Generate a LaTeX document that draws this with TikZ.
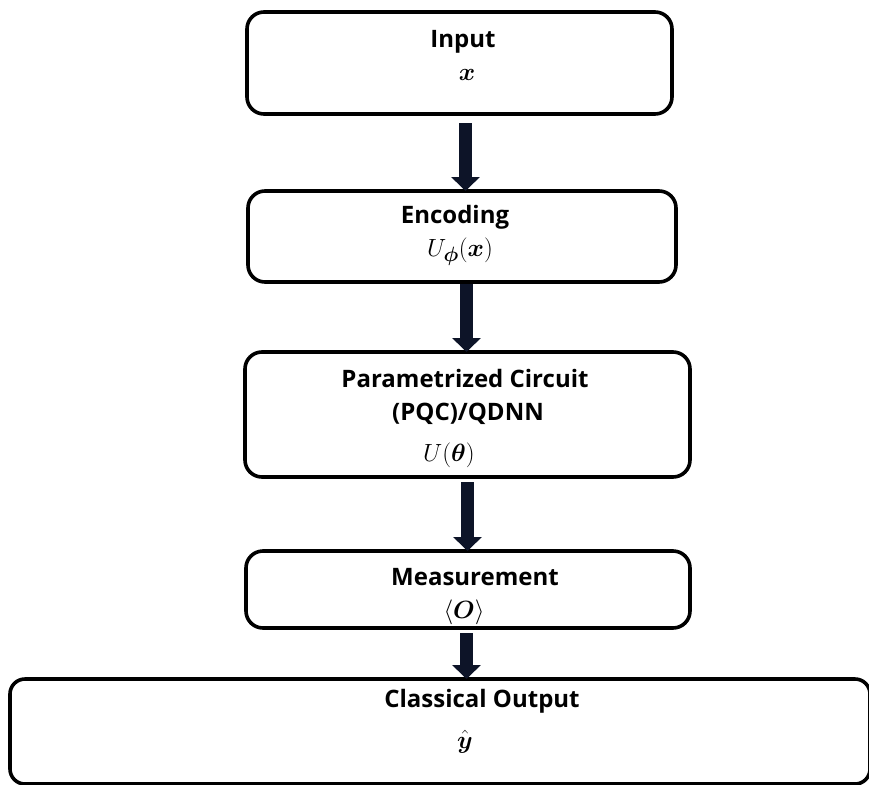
\documentclass[tikz,border=0pt]{standalone}
\usepackage{amsmath}
\usepackage{fontspec}
\setmainfont{Open Sans}
\usetikzlibrary{arrows.meta}
\definecolor{arrowc}{HTML}{0D1428}
\begin{document}
\begin{tikzpicture}[x=1pt,y=-1pt,
  blk/.style={draw=black, line width=3.6pt, rounded corners=17pt, inner sep=0pt, outer sep=0pt},
  lbl/.style={font=\fontsize{24}{28}\selectfont\bfseries, anchor=base, inner sep=0pt},
  mth/.style={font=\fontsize{29}{33}\selectfont, anchor=base, inner sep=0pt},
  flow/.style={draw=arrowc, line width=13pt, -{Triangle[length=14pt,width=28pt]}}
]
\useasboundingbox (0,0) rectangle (869,784);
% boxes
\node[blk, minimum width=425pt, minimum height=102pt] (in)   at (459.5,63)  {};
\node[blk, minimum width=428pt, minimum height=91pt]  (enc)  at (462,236.5) {};
\node[blk, minimum width=445pt, minimum height=125pt] (pqc)  at (467.5,414.5) {};
\node[blk, minimum width=444pt, minimum height=77pt]  (meas) at (468,589.5) {};
\node[blk, minimum width=860pt, minimum height=105pt, rounded corners=15pt] (out) at (440,731.5) {};
% texts
\node[lbl] (tin)  at (463,48)  {Input};
\node[mth] (tx)   at (467,81)  {$\boldsymbol{x}$};
\node[lbl] (tenc) at (455,223) {Encoding};
\node[mth] (tu)   at (460,256) {$U_{\boldsymbol{\phi}}(\boldsymbol{x})$};
\node[lbl] (tp1)  at (465,387) {Parametrized Circuit};
\node[lbl] (tp2)  at (468,420) {(PQC)/QDNN};
\node[mth] (tut)  at (449,461) {$U(\boldsymbol{\theta})$};
\node[lbl] (tm)   at (475,585) {Measurement};
\node[mth] (to)   at (464,618) {$\langle\boldsymbol{O}\rangle$};
\node[lbl] (tc)   at (482,707) {Classical Output};
\node[mth] (ty)   at (465,748) {$\hat{\boldsymbol{y}}$};
% arrows
\draw[flow] ([xshift=6pt,yshift=-9pt]in.south) -- ([xshift=3.5pt]enc.north);
\draw[flow] ([xshift=4.5pt,yshift=-2pt]enc.south) -- ([xshift=-1pt]pqc.north);
\draw[flow] ([yshift=-5pt]pqc.south) -- ([xshift=-0.5pt]meas.north);
\draw[flow] ([xshift=-1.5pt,yshift=-5pt]meas.south) -- ([xshift=26.5pt]out.north);
\end{tikzpicture}
\end{document}
